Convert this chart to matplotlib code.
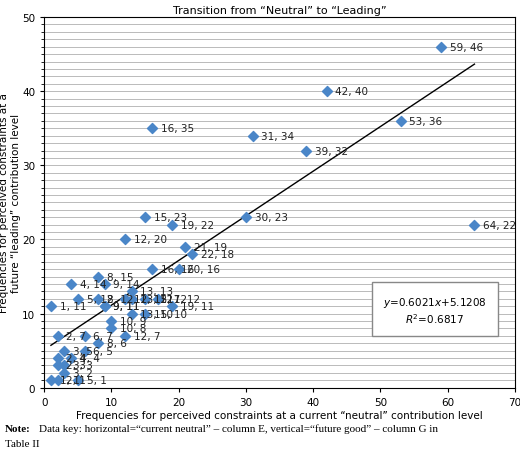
import numpy as np
import matplotlib.pyplot as plt

xs = [59, 42, 53, 16, 31, 39, 15, 19, 30, 12, 21, 22, 64, 16, 20, 8, 4, 9, 13, 5, 8, 9, 12, 15,
      1, 9, 13, 15, 19, 10, 10, 2, 6, 12, 8, 3, 6, 2, 4, 2, 3, 3, 1, 2, 5, 13, 17]
ys = [46, 40, 36, 35, 34, 32, 23, 22, 23, 20, 19, 18, 22, 16, 16, 15, 14, 14, 13, 12, 12, 11, 12, 12,
      11, 11, 10, 10, 11, 9, 8, 7, 7, 7, 6, 5, 5, 4, 4, 3, 3, 2, 1, 1, 1, 12, 12]
slope, icpt = 0.6021, 5.1208

fig = plt.figure(figsize=(5.2, 4.52), dpi=100)
ax = fig.add_axes([0.085, 0.14, 0.905, 0.82])
ax.set_xlim(0, 70)
ax.set_ylim(0, 50)
ax.set_yticks(np.arange(0, 51, 1), minor=True)
ax.grid(True, which='both', axis='y', color='#b0b0b0', lw=0.6)
ax.set_axisbelow(True)
ax.scatter(xs, ys, marker='D', s=26, color='#4a86c8', zorder=3)
for x, y in zip(xs, ys):
    ax.text(x + 1.3, y, f'{x}, {y}', fontsize=7.5, va='center', color='#222')
lx = np.array([1, 64])
ax.plot(lx, slope * lx + icpt, color='black', lw=1)
ax.text(0.83, 0.21, f'$y$=0.6021$x$+5.1208\n$R^2$=0.6817', transform=ax.transAxes,
        ha='center', va='center', fontsize=7.5,
        bbox=dict(facecolor='white', edgecolor='#888', pad=8))
ax.tick_params(labelsize=7.5, length=3)
ax.set_title('Transition from \u201cNeutral\u201d to \u201cLeading\u201d', fontsize=8, pad=3)
ax.set_xlabel('Frequencies for perceived constraints at a current \u201cneutral\u201d contribution level', fontsize=7.5, labelpad=2)
ax.set_ylabel('Frequencies for perceived constraints at a\nfuture \u201cleading\u201d contribution level', fontsize=7.5, labelpad=1)
fig.text(0.01, 0.045, 'Note:', fontsize=8, fontweight='bold', family='Liberation Serif')
fig.text(0.075, 0.045, 'Data key: horizontal=\u201ccurrent neutral\u201d \u2013 column E, vertical=\u201cfuture good\u201d \u2013 column G in',
         fontsize=8, family='Liberation Serif')
fig.text(0.01, 0.01, 'Table II', fontsize=8, family='Liberation Serif')
fig.savefig('out.png')
